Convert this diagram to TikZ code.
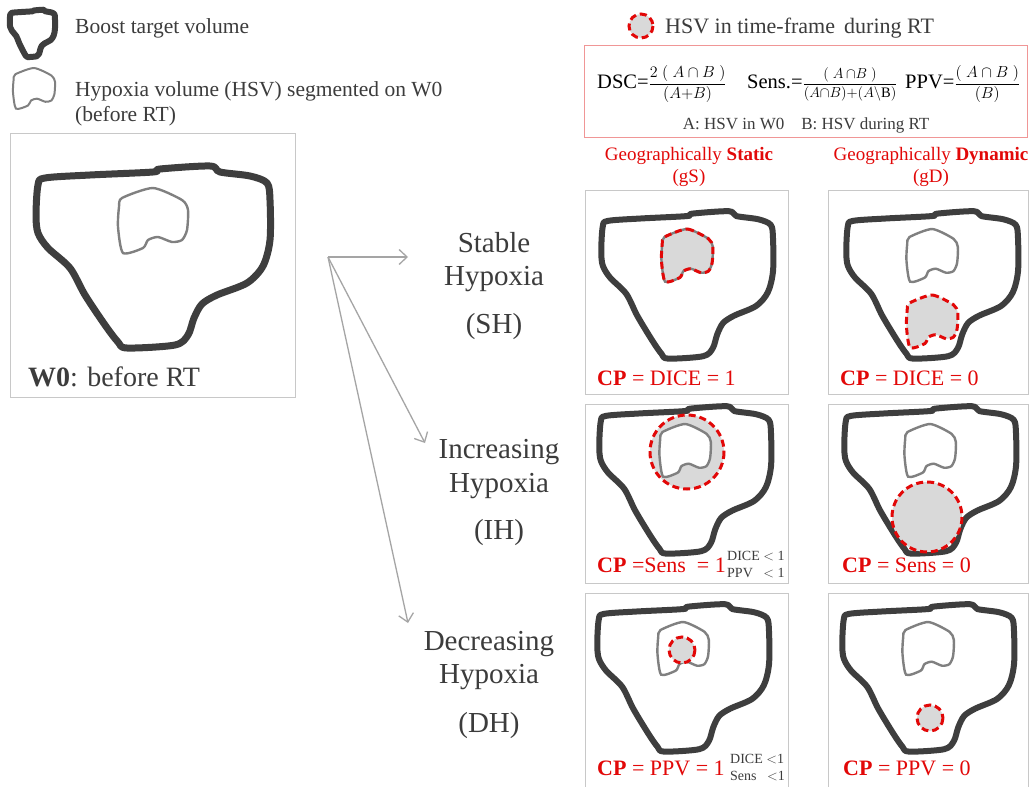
\RequirePackage{fix-cm}
\documentclass[tikz,border=0pt]{standalone}
\usepackage{fontspec}
\setmainfont{Liberation Serif}
\newfontfamily\tnr{Liberation Serif}
\usetikzlibrary{arrows.meta}
\definecolor{dk}{RGB}{62,62,62}
\definecolor{hy}{RGB}{128,128,128}
\definecolor{rd}{RGB}{226,8,8}
\definecolor{fl}{RGB}{217,217,217}
\definecolor{txt}{RGB}{60,60,60}
\definecolor{pbox}{RGB}{200,200,200}
\definecolor{pink}{RGB}{240,150,150}
\definecolor{arr}{RGB}{165,165,165}
\tikzset{
  blw/.initial=6pt,
  boostpic/.pic={\draw[dk,line width=\pgfkeysvalueof{/tikz/blw},line join=round]
    plot[smooth cycle,tension=0.5] coordinates{(1,18) (8,11) (53,8) (116,5) (123,2) (173,-1) (183,5) (213,9) (230,16) (233,33) (233,73) (226,99) (210,116) (180,128) (165,137) (157,151) (151,168) (138,178) (90,181) (81,175) (68,158) (48,128) (33,101) (11,81) (1,66) (-1,48)};},
  hyppic/.pic={\draw[hy,line width=2.4pt,#1]
    plot[smooth cycle,tension=0.4] coordinates{(85,31) (116,21) (145,33) (151,43) (150,63) (145,73) (135,75) (121,70) (111,73) (106,81) (86,86) (81,60) (82,40)};},
  panel/.style={draw=pbox,line width=1pt},
  reddash/.style={draw=rd,line width=3pt,dash pattern=on 7pt off 4pt},
  leg/.style={font=\tnr\fontsize{21.5}{25}\selectfont,text=txt,inner sep=0pt},
  hdr/.style={font=\tnr\fontsize{19}{23}\selectfont,text=rd,inner sep=0pt},
  scen/.style={font=\tnr\fontsize{29}{34}\selectfont,text=txt,inner sep=0pt},
  cp/.style={font=\tnr\fontsize{22}{26}\selectfont,text=rd,inner sep=0pt,anchor=base west},
  small/.style={font=\tnr\fontsize{14}{16}\selectfont,text=txt,inner sep=0pt,anchor=base west},
  fml/.style={font=\tnr\fontsize{20.5}{24}\selectfont,text=black,inner sep=0pt,anchor=base west},
  conn/.style={arr,line width=1.3pt,-{Straight Barb[length=8pt,width=15pt]}},
}
\newcommand\fr[3][14.5]{{\fontsize{#1}{18}\selectfont$\displaystyle\frac{#2}{#3}$}}
\begin{document}
\begin{tikzpicture}[x=1pt,y=-1pt]
\useasboundingbox[fill=white] (0,0) rectangle (1029,787);
% ---------- legend ----------
\pic[xscale=0.193,yscale=0.26,blw=6pt] at (10,10) {boostpic};
\node[leg,anchor=base west] (l1) at (75,34) {Boost target volume};
\pic[xscale=0.6,yscale=0.625] at (-35.6,54.9) {hyppic={line width=2pt}};
\node[leg,anchor=base west] (l2) at (75,96) {Hypoxia volume (HSV) segmented on W0};
\node[leg,anchor=base west] (l3) at (75,121) {(before RT)};
\path[fill=fl,reddash] (641,26) circle (12);
\node[leg,anchor=base west,font=\tnr\fontsize{22}{26}\selectfont] (l4) at (665,34) {HSV in time-frame \,during RT};
% formula box
\draw[pink,line width=0.8pt] (584,45) rectangle (1027,137);
\node[fml] (dsc) at (597,88) {DSC=\fr[16]{2\;(\;A\cap B\;)}{(A{+}B)}};
\node[fml] (sens) at (747,88) {Sens.=\fr{(\;A\,{\cap}B\;)}{(A{\cap}B){+}(A\backslash\mathrm{B})}};
\node[fml] (ppv) at (905,88) {PPV=\fr[16]{(\;A\cap B\;)}{(B)}};
\node[font=\tnr\fontsize{17}{20}\selectfont,text=txt,inner sep=0pt,anchor=base] (ab) at (806,129) {A: HSV in W0\quad B: HSV during RT};
% ---------- W0 panel ----------
\node[panel,minimum width=285pt,minimum height=264pt,anchor=north west,inner sep=0pt] (w0) at (10,133) {};
\pic[blw=7pt] at (37,167) {boostpic};
\pic at (37,167) {hyppic={}};
\node[font=\tnr\fontsize{28}{32}\selectfont,text=txt,inner sep=0pt,anchor=base west] (w0t) at (28,386) {\textbf{W0}: before RT};
% ---------- scenario labels ----------
\node[scen,anchor=base] (s1) at (494,252) {Stable};
\node[scen,anchor=base] (s2) at (494,285) {Hypoxia};
\node[scen,anchor=base] (s3) at (494,333) {(SH)};
\node[scen,anchor=base] (i1) at (499,458) {Increasing};
\node[scen,anchor=base] (i2) at (499,492) {Hypoxia};
\node[scen,anchor=base] (i3) at (499,539) {(IH)};
\node[scen,anchor=base] (d1) at (489,650) {Decreasing};
\node[scen,anchor=base] (d2) at (489,683) {Hypoxia};
\node[scen,anchor=base] (d3) at (489,732) {(DH)};
% arrows
\coordinate (o) at (328,257);
\coordinate (tSH) at (408,257);
\coordinate (tIH) at (425,443);
\coordinate (tDH) at (408,623);
\draw[conn] (o) -- (tSH);
\draw[conn] (o) -- (tIH);
\draw[conn] (o) -- (tDH);
% ---------- column headers ----------
\node[hdr,anchor=base] (h1) at (689,160) {Geographically \textbf{Static}};
\node[hdr,anchor=base] (h2) at (689,182) {(gS)};
\node[hdr,anchor=base] (h3) at (931,160) {Geographically \textbf{Dynamic}};
\node[hdr,anchor=base] (h4) at (931,182) {(gD)};
% ---------- panels ----------
\node[panel,minimum width=203pt,minimum height=204pt,anchor=north west,inner sep=0pt] (p11) at (585,190) {};
\node[panel,minimum width=200pt,minimum height=204pt,anchor=north west,inner sep=0pt] (p12) at (828,190) {};
\node[panel,minimum width=203pt,minimum height=179pt,anchor=north west,inner sep=0pt] (p21) at (585,404) {};
\node[panel,minimum width=200pt,minimum height=179pt,anchor=north west,inner sep=0pt] (p22) at (828,404) {};
\node[panel,minimum width=203pt,minimum height=220pt,anchor=north west,inner sep=0pt] (p31) at (585,593) {};
\node[panel,minimum width=200pt,minimum height=220pt,anchor=north west,inner sep=0pt] (p32) at (828,593) {};
% SH gS
\pic[xscale=0.734,yscale=0.81] at (602,212) {boostpic};
\pic[xscale=0.734,yscale=0.81] at (602,212) {hyppic={fill=fl}};
\pic[xscale=0.734,yscale=0.81] at (602,212) {hyppic={draw=rd,line width=3pt,dash pattern=on 7pt off 4pt}};
\node[cp] (c11) at (597,385) {\textbf{CP} = DICE = 1};
% SH gD
\pic[xscale=0.734,yscale=0.81] at (847,212) {boostpic};
\pic[xscale=0.734,yscale=0.81] at (847,212) {hyppic={}};
\pic[xscale=0.734,yscale=0.81] at (847,278) {hyppic={fill=fl,draw=rd,line width=3pt,dash pattern=on 7pt off 4pt}};
\node[cp] (c12) at (840,385) {\textbf{CP} = DICE = 0};
% IH gS
\pic[xscale=0.734,yscale=0.81] at (600,407) {boostpic};
\fill[fl] (687,452) circle (37);
\pic[xscale=0.734,yscale=0.81] at (600,407) {hyppic={fill=white}};
\draw[reddash] (687,452) circle (37);
\node[cp] (c21) at (597,572) {\textbf{CP} =Sens\ \ = 1};
\node[small] (s21a) at (727,560) {DICE $<$ 1};
\node[small] (s21b) at (727,577) {PPV\ \ \ $<$ 1};
% IH gD
\pic[xscale=0.734,yscale=0.81] at (845,407) {boostpic};
\pic[xscale=0.734,yscale=0.81] at (845,407) {hyppic={}};
\path[fill=fl,reddash] (927,517) circle (35);
\node[cp] (c22) at (842,572) {\textbf{CP} = Sens = 0};
% DH gS
\pic[xscale=0.734,yscale=0.81] at (598,605) {boostpic};
\pic[xscale=0.734,yscale=0.81] at (598,605) {hyppic={}};
\path[fill=fl,reddash] (682,650) circle (13);
\node[cp] (c31) at (597,775) {\textbf{CP} = PPV = 1};
\node[small] (s31a) at (730,763) {DICE $<$1};
\node[small] (s31b) at (730,780) {Sens\ \ \ $<$1};
% DH gD
\pic[xscale=0.734,yscale=0.81] at (843,605) {boostpic};
\pic[xscale=0.734,yscale=0.81] at (843,605) {hyppic={}};
\path[fill=fl,reddash] (930,718) circle (13);
\node[cp] (c32) at (843,775) {\textbf{CP} = PPV = 0};
\end{tikzpicture}
\end{document}
